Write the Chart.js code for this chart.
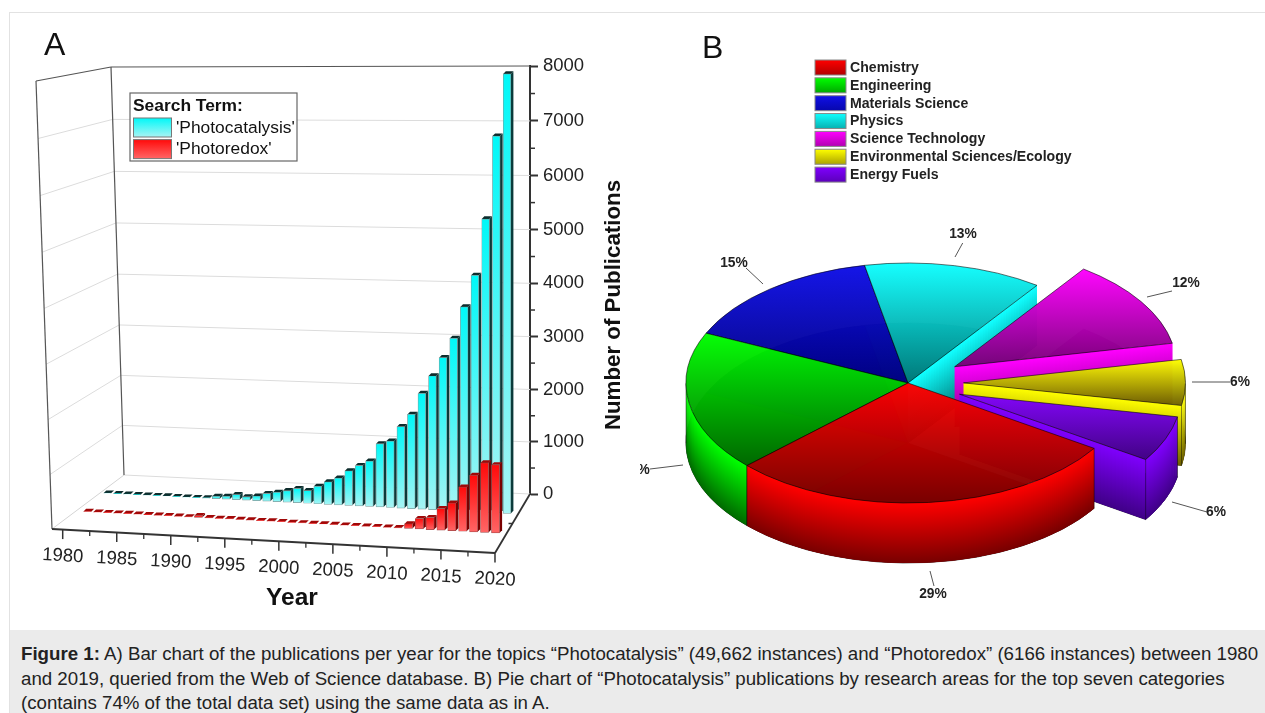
<!DOCTYPE html>
<html>
<head>
<meta charset="utf-8">
<title>Figure 1</title>
<script src="https://cdn.jsdelivr.net/npm/chart.js@4/dist/chart.umd.js"></script>
<style>
  html, body { margin: 0; padding: 0; background: #fff; overflow: hidden; }
  #page { position: relative; width: 1265px; height: 713px; font-family: "Liberation Sans", Arial, sans-serif; }
  #frameTop { position: absolute; left: 9px; top: 12px; width: 1256px; height: 1px; background: #e2e2e2; }
  #frameLeft { position: absolute; left: 9px; top: 12px; width: 1px; height: 701px; background: #e2e2e2; }
  canvas { position: absolute; top: 0; }
  #barCanvas { left: 0; }
  #pieCanvas { left: 640px; }
  #caption { position: absolute; left: 10px; top: 630px; width: 1255px; height: 83px; background: #ebebeb;
    box-sizing: border-box; padding: 12px 0 0 11px; font-size: 18.7px; line-height: 24.6px; color: #222; white-space: nowrap; }
</style>
</head>
<body>
<div id="page">
  <div id="frameTop"></div>
  <div id="frameLeft"></div>
  <canvas id="barCanvas" width="640" height="630"></canvas>
  <canvas id="pieCanvas" width="625" height="630"></canvas>
  <div id="caption"><b>Figure 1:</b> A) Bar chart of the publications per year for the topics “Photocatalysis” (49,662 instances) and “Photoredox” (6166 instances) between 1980<br>and 2019, queried from the Web of Science database. B) Pie chart of “Photocatalysis” publications by research areas for the top seven categories<br>(contains 74% of the total data set) using the same data as in A.</div>
</div>
<script>
const years = [1980, 1981, 1982, 1983, 1984, 1985, 1986, 1987, 1988, 1989,
  1990, 1991, 1992, 1993, 1994, 1995, 1996, 1997, 1998, 1999,
  2000, 2001, 2002, 2003, 2004, 2005, 2006, 2007, 2008, 2009,
  2010, 2011, 2012, 2013, 2014, 2015, 2016, 2017, 2018, 2019];
const photocatalysis = [8, 6, 8, 7, 9, 8, 10, 9, 8, 10,
  15, 52, 62, 103, 72, 93, 154, 185, 226, 278,
  247, 340, 432, 515, 660, 770, 865, 1200, 1260, 1540,
  1780, 2180, 2515, 2865, 3230, 3820, 4410, 5445, 6950, 8070];
const photoredox = [10, 8, 10, 9, 12, 10, 9, 11, 12, 10,
  9, 40, 14, 12, 15, 10, 12, 10, 14, 12,
  8, 10, 8, 9, 10, 8, 10, 9, 12, 10,
  12, 95, 207, 237, 416, 529, 843, 1073, 1318, 1293];
const yTickLabels = [0, 1000, 2000, 3000, 4000, 5000, 6000, 7000, 8000];
const xTickLabels = [1980, 1985, 1990, 1995, 2000, 2005, 2010, 2015, 2020];
const xMinorTicks = [1982.5, 1987.5, 1992.5, 1997.5, 2002.5, 2007.5, 2012.5, 2017.5];
const searchTerms = ["'Photocatalysis'", "'Photoredox'"];

const areas = ['Chemistry', 'Engineering', 'Materials Science', 'Physics', 'Science Technology', 'Environmental Sciences/Ecology', 'Energy Fuels'];
const areaShares = [28.75, 18.9, 15.05, 13, 12, 6.15, 6.15];
const areaExplode = [0, 0, 0, 0, 0.25, 0.25, 0.25];
const areaBright = ['#ff0000', '#00ff00', '#1010e8', '#10ffff', '#ff00ff', '#ffff00', '#8000ff'];
const areaDark = ['#780000', '#006800', '#000080', '#007878', '#780078', '#6e6000', '#400088'];
const FONT = '"Liberation Sans", Arial, sans-serif';

function lerp(a, b, t) { return a + (b - a) * t; }

// the printed axis is drawn in perspective: ticks get slightly wider towards the top
function bend(t) { return t + 0.031 * (t * t - t); }

class BoxScale extends Chart.LinearScale {
  static id = 'boxLinear';
  static defaults = {};
  getPixelForValue(value) {
    return this.getPixelForDecimal(bend((value - this.min) / (this.max - this.min)));
  }
}
Chart.register(BoxScale);

function poly(ctx, pts) {
  ctx.beginPath();
  pts.forEach((p, i) => { if (i === 0) ctx.moveTo(p[0], p[1]); else ctx.lineTo(p[0], p[1]); });
  ctx.closePath();
}

function line(ctx, x0, y0, x1, y1, color, width) {
  ctx.strokeStyle = color;
  ctx.lineWidth = width;
  ctx.beginPath();
  ctx.moveTo(x0, y0);
  ctx.lineTo(x1, y1);
  ctx.stroke();
}

// corners of the box the bars stand in
const box = {
  frontLeftTop: [36, 81], frontLeftBottom: [52, 529],
  backLeftTop: [111, 67], backLeftBottom: [124, 475],
  frontRight: [495, 553]
};
// where each row of bars stands on the floor
const rows = [
  { x0: 107.5, y0: 493, x1: 507, y1: 513.5, hScale: 1.019, side: '#0b3a3a', top: '#0d2c2c' },
  { x0: 87.5, y0: 511.5, x1: 495.5, y1: 533, hScale: 1.019, side: '#7a0000', top: '#a00808' }
];

const boxPlugin = {
  id: 'box3d',
  beforeDatasetsDraw(chart) {
    const ctx = chart.ctx;
    const yScale = chart.scales.y;
    const xRight = yScale.left;
    const bottomRight = yScale.getPixelForValue(0);
    ctx.save();
    const b = box;
    yTickLabels.forEach(v => {
      if (v === 8000) return;
      const t = bend(v / 8000);
      const lx = lerp(b.backLeftBottom[0], b.backLeftTop[0], t);
      const ly = lerp(b.backLeftBottom[1], b.backLeftTop[1], t);
      const fx = lerp(b.frontLeftBottom[0], b.frontLeftTop[0], t);
      const fy = lerp(b.frontLeftBottom[1], b.frontLeftTop[1], t);
      line(ctx, lx, ly, xRight, yScale.getPixelForValue(v), '#dcdcdc', 1);
      if (v !== 0) line(ctx, fx, fy, lx, ly, '#dcdcdc', 1);
    });
    line(ctx, b.frontLeftBottom[0], b.frontLeftBottom[1], b.backLeftBottom[0], b.backLeftBottom[1], '#d4d4d4', 1);
    line(ctx, b.frontLeftTop[0], b.frontLeftTop[1], b.frontLeftBottom[0], b.frontLeftBottom[1], '#555', 1.2);
    line(ctx, b.backLeftTop[0], b.backLeftTop[1], b.backLeftBottom[0], b.backLeftBottom[1], '#555', 1.2);
    line(ctx, b.frontLeftTop[0], b.frontLeftTop[1], b.backLeftTop[0], b.backLeftTop[1], '#555', 1.2);
    line(ctx, b.backLeftTop[0], b.backLeftTop[1], xRight, yScale.getPixelForValue(8000), '#555', 1.2);
    // floor edges
    line(ctx, b.frontLeftBottom[0], b.frontLeftBottom[1], b.frontRight[0], b.frontRight[1], '#333', 1.8);
    line(ctx, b.frontRight[0], b.frontRight[1], xRight, bottomRight, '#333', 1.8);
    line(ctx, lerp(b.frontRight[0], xRight, 0.5), lerp(b.frontRight[1], bottomRight, 0.5),
      lerp(b.frontRight[0], xRight, 0.5) - 4, lerp(b.frontRight[1], bottomRight, 0.5), '#333', 1.5);
    // minor ticks on the value axis
    yTickLabels.forEach(v => {
      if (v === 8000) return;
      const py = yScale.getPixelForValue(v + 500);
      line(ctx, xRight, py, xRight + 5, py, '#333', 1.5);
    });
    // slanted year axis
    const xScale = chart.scales.x;
    const floorY = x => lerp(b.frontLeftBottom[1], b.frontRight[1], (x - b.frontLeftBottom[0]) / (b.frontRight[0] - b.frontLeftBottom[0]));
    xMinorTicks.forEach(yr => {
      const px = xScale.getPixelForValue(yr);
      line(ctx, px, floorY(px), px, floorY(px) + 5, '#333', 1.3);
    });
    ctx.fillStyle = '#222';
    ctx.font = '18.5px ' + FONT;
    ctx.textAlign = 'center';
    ctx.textBaseline = 'middle';
    xTickLabels.forEach(yr => {
      const px = xScale.getPixelForValue(yr);
      const fy = floorY(px);
      line(ctx, px, fy, px, fy + 9.5, '#333', 1.5);
      ctx.save();
      ctx.translate(px, fy + 26.5);
      ctx.rotate(0.054);
      ctx.fillText(String(yr), 0, 0);
      ctx.restore();
    });
    ctx.restore();
  },
  // each bar is moved onto its floor row and given a top and a side
  beforeDatasetDraw(chart, args) {
    const ctx = chart.ctx;
    const row = rows[args.index];
    const last = args.meta.data.length - 1;
    args.meta.data.forEach((bar, i) => {
      const u = i / last;
      const f = u + 0.05 * (u * u - u);
      const w = bar.width / 2;
      const dx = 2.6, dy = -2.6;
      ctx.save();
      ctx.translate(lerp(row.x0, row.x1, f), lerp(row.y0, row.y1, f));
      ctx.scale(1, row.hScale);
      ctx.translate(-bar.x, -bar.base);
      poly(ctx, [[bar.x + w, bar.y], [bar.x + w + dx, bar.y + dy], [bar.x + w + dx, bar.base + dy], [bar.x + w, bar.base]]);
      ctx.fillStyle = row.side;
      ctx.fill();
      poly(ctx, [[bar.x - w, bar.y], [bar.x - w + dx, bar.y + dy], [bar.x + w + dx, bar.y + dy], [bar.x + w, bar.y]]);
      ctx.fillStyle = row.top;
      ctx.fill();
      bar.draw(ctx);
      ctx.restore();
    });
    return false;
  },
  afterDraw(chart) {
    const ctx = chart.ctx;
    ctx.save();
    ctx.fillStyle = '#111';
    ctx.textBaseline = 'middle';
    ctx.textAlign = 'left';
    ctx.font = '32px ' + FONT;
    ctx.fillText('A', 44, 46.5);
    ctx.textAlign = 'center';
    ctx.font = 'bold 24.5px ' + FONT;
    ctx.fillText('Year', 292, 598);
    ctx.save();
    ctx.translate(614, 305);
    ctx.rotate(-Math.PI / 2);
    ctx.font = 'bold 22.3px ' + FONT;
    ctx.fillText('Number of Publications', 0, 0);
    ctx.restore();

    // legend
    ctx.fillStyle = '#fff';
    ctx.fillRect(130, 93, 167, 68);
    ctx.strokeStyle = '#666';
    ctx.lineWidth = 1.2;
    ctx.strokeRect(130, 93, 167, 68);
    ctx.textAlign = 'left';
    ctx.fillStyle = '#111';
    ctx.font = 'bold 17.4px ' + FONT;
    ctx.fillText('Search Term:', 133, 106);
    const swatches = [['#00f8f8', '#a8f4f4'], ['#ff0a0a', '#ff6666']];
    ctx.font = '17.4px ' + FONT;
    searchTerms.forEach((term, i) => {
      const y = 118 + i * 21.6;
      const g = ctx.createLinearGradient(0, y, 0, y + 19);
      g.addColorStop(0, swatches[i][0]);
      g.addColorStop(1, swatches[i][1]);
      ctx.fillStyle = g;
      ctx.fillRect(133.5, y, 38, 19);
      ctx.strokeStyle = '#777';
      ctx.lineWidth = 1;
      ctx.strokeRect(133.5, y, 38, 19);
      ctx.fillStyle = '#111';
      ctx.fillText(term, 176, y + 10);
    });
    ctx.restore();
  }
};

function barGradient(top, bottom) {
  return c => {
    if (!c.parsed) return top;
    const y = c.chart.scales.y;
    const y0 = y.getPixelForValue(c.parsed.y);
    const y1 = y.getPixelForValue(0);
    if (!isFinite(y0) || !isFinite(y1)) return top;
    const g = c.chart.ctx.createLinearGradient(0, y0, 0, y1);
    g.addColorStop(0, top);
    g.addColorStop(1, bottom);
    return g;
  };
}

new Chart('barCanvas', {
  type: 'bar',
  data: {
    labels: years,
    datasets: [
      { label: searchTerms[0], data: photocatalysis, order: 2, grouped: false, barThickness: 7.6, borderWidth: 0.7, borderSkipped: false,
        borderColor: '#7d9c9c', backgroundColor: barGradient('#00f8f8', '#a8f4f4') },
      { label: searchTerms[1], data: photoredox, order: 1, grouped: false, barThickness: 8, borderWidth: 0.7, borderSkipped: false,
        borderColor: '#a04848', backgroundColor: barGradient('#ff0a0a', '#ff6666') }
    ]
  },
  options: {
    responsive: false,
    animation: false,
    events: [],
    layout: { padding: { left: 52, right: 40, top: 66, bottom: 136 } },
    plugins: { legend: { display: false }, tooltip: { enabled: false } },
    scales: {
      x: { type: 'linear', display: false, offset: false, min: 1979.01, max: 2023.24 },
      y: {
        type: 'boxLinear',
        position: 'right',
        min: 0,
        max: 8000,
        afterFit(scale) { scale.width = 70; },
        border: { color: '#333', width: 2 },
        grid: {
          drawOnChartArea: false,
          tickLength: 8,
          tickWidth: 2,
          tickColor: c => (yTickLabels.includes(c.tick.value) ? '#333' : 'rgba(0,0,0,0)')
        },
        ticks: {
          stepSize: 500,
          autoSkip: false,
          padding: 5,
          color: '#222',
          font: { family: FONT, size: 18.5 },
          callback: v => (yTickLabels.includes(v) ? String(v) : '')
        }
      }
    }
  },
  plugins: [boxPlugin]
});

// pie: squash of the circle and depth of the slab
const squash = 120 / 222;
const slabDepth = 60;
const paintOrder = [2, 3, 4, 5, 6, 1, 0];
// leader lines and labels, in page pixels
const pieLabels = [
  { text: [933, 594], lead: [930, 571, 934, 586] },
  { text: [636, 470], lead: [650, 469, 683, 465] },
  { text: [734, 263], lead: [746, 268, 763, 284] },
  { text: [963, 234], lead: [962.7, 243, 955, 257] },
  { text: [1186, 283], lead: [1172, 291, 1147, 297] },
  { text: [1240, 382], lead: [1192, 382, 1230, 382] },
  { text: [1216, 512], lead: [1172, 502, 1207, 512] }
];

function sliceInfo(arc, i) {
  const R = arc.outerRadius;
  const mid = (arc.startAngle + arc.endAngle) / 2;
  const off = areaExplode[i] * R;
  const ox = Math.cos(mid) * off;
  const oy = Math.sin(mid) * off;
  const at = (a, r) => [arc.x + ox + r * Math.cos(a), arc.y + squash * (oy + r * Math.sin(a))];
  return { R, ox, oy, at };
}

function drawFace(ctx, arc, i, info, bright, dark, alpha, dy) {
  const ys = [arc.y, arc.y + info.R * Math.sin(arc.startAngle), arc.y + info.R * Math.sin(arc.endAngle)];
  for (let a = arc.startAngle; a < arc.endAngle; a += 0.02) ys.push(arc.y + info.R * Math.sin(a));
  const g = ctx.createLinearGradient(0, Math.min(...ys), 0, Math.max(...ys));
  g.addColorStop(0, bright);
  g.addColorStop(1, dark);
  const saved = arc.options;
  ctx.save();
  ctx.globalAlpha = alpha;
  ctx.translate(arc.x, arc.y + dy);
  ctx.scale(1, squash);
  ctx.translate(-arc.x, -arc.y);
  ctx.translate(info.ox, info.oy);
  arc.options = Object.assign({}, saved, { backgroundColor: g });
  arc.draw(ctx);
  arc.options = saved;
  ctx.restore();
}

// vertical wall under a run of top-edge points, shaded per column
function drawWall(ctx, pts, bright, dark) {
  for (let i = 0; i < pts.length - 1; i++) {
    const p = pts[i];
    const q = pts[Math.min(i + 2, pts.length - 1)];
    const g = ctx.createLinearGradient(0, p[1], 0, p[1] + slabDepth);
    g.addColorStop(0, bright);
    g.addColorStop(1, dark);
    ctx.fillStyle = g;
    poly(ctx, [p, q, [q[0], q[1] + slabDepth], [p[0], p[1] + slabDepth]]);
    ctx.fill();
  }
}

const piePlugin = {
  id: 'pieSlab',
  beforeDatasetDraw(chart, args) {
    const ctx = chart.ctx;
    const arcs = args.meta.data;
    paintOrder.forEach(i => {
      drawFace(ctx, arcs[i], i, sliceInfo(arcs[i], i), areaDark[i], areaDark[i], 1, slabDepth);
    });
    paintOrder.forEach(i => {
      const arc = arcs[i];
      const info = sliceInfo(arc, i);
      if (Math.cos(arc.endAngle) > 0) {
        const pts = [];
        for (let r = 0; r <= info.R; r += info.R / 50) pts.push(info.at(arc.endAngle, r));
        drawWall(ctx, pts, areaBright[i], areaDark[i]);
      }
      const outer = [];
      for (let a = arc.startAngle; a <= arc.endAngle; a += 0.012) {
        if (Math.sin(a) >= 0) outer.push(info.at(a, info.R));
      }
      if (Math.sin(arc.endAngle) >= 0) outer.push(info.at(arc.endAngle, info.R));
      if (outer.length > 1) {
        drawWall(ctx, outer, areaBright[i], areaDark[i]);
        const e0 = outer[0], e1 = outer[outer.length - 1];
        line(ctx, e0[0], e0[1], e0[0], e0[1] + slabDepth, 'rgba(0,0,0,0.55)', 0.8);
        line(ctx, e1[0], e1[1], e1[0], e1[1] + slabDepth, 'rgba(0,0,0,0.55)', 0.8);
      }
      drawFace(ctx, arc, i, info, areaBright[i], areaDark[i], 0.975, 0);
    });
    return false;
  },
  afterDraw(chart) {
    const ctx = chart.ctx;
    ctx.save();
    ctx.translate(-640, 0);
    ctx.fillStyle = '#111';
    ctx.textBaseline = 'middle';
    ctx.textAlign = 'left';
    ctx.font = '32px ' + FONT;
    ctx.fillText('B', 702, 49.5);

    areas.forEach((name, i) => {
      const y = 60 + i * 17.85;
      const g = ctx.createLinearGradient(0, y, 0, y + 26);
      g.addColorStop(0, areaBright[i]);
      g.addColorStop(1, areaDark[i]);
      ctx.fillStyle = g;
      ctx.fillRect(815, y, 31, 15);
      ctx.strokeStyle = '#888';
      ctx.lineWidth = 1;
      ctx.strokeRect(815, y, 31, 15);
      ctx.fillStyle = '#222';
      ctx.font = 'bold 14.1px ' + FONT;
      ctx.textAlign = 'left';
      ctx.fillText(name, 850, y + 8);
    });

    ctx.textAlign = 'center';
    ctx.font = 'bold 13.8px ' + FONT;
    areaShares.forEach((share, i) => {
      const l = pieLabels[i];
      line(ctx, l.lead[0], l.lead[1], l.lead[2], l.lead[3], '#555', 1);
      ctx.fillStyle = '#222';
      ctx.fillText(Math.round(share) + '%', l.text[0], l.text[1]);
    });
    ctx.restore();
  }
};

new Chart('pieCanvas', {
  type: 'pie',
  data: {
    labels: areas,
    datasets: [{ data: areaShares, backgroundColor: areaBright, borderColor: 'rgba(0,0,0,0.75)', borderWidth: 1 }]
  },
  options: {
    responsive: false,
    animation: false,
    events: [],
    rotation: 123,
    layout: { padding: { left: 45.5, right: 134.5, top: 160.5, bottom: 24.5 } },
    plugins: { legend: { display: false }, tooltip: { enabled: false } }
  },
  plugins: [piePlugin]
});
</script>
</body>
</html>
